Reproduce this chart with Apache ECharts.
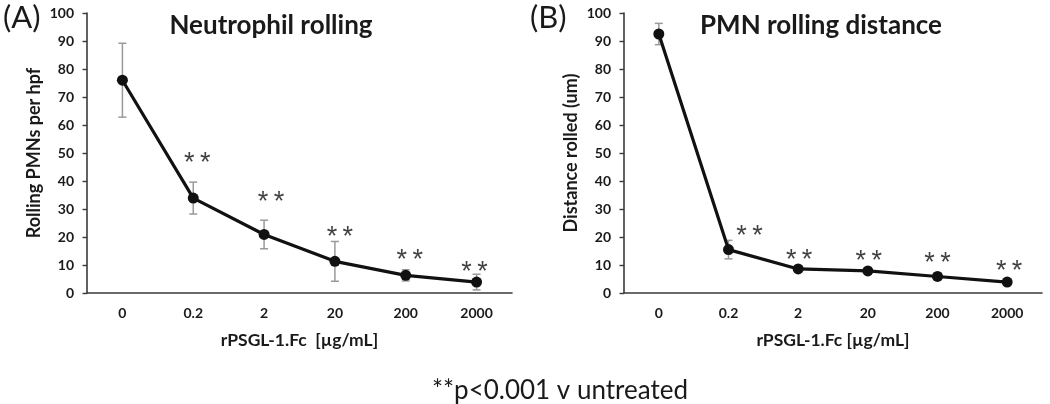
<!DOCTYPE html>
<html>
<head>
<meta charset="utf-8">
<script src="https://cdn.jsdelivr.net/npm/echarts@6/dist/echarts.min.js"></script>
<style>
html,body{margin:0;padding:0;background:#fff;}
#c{width:1050px;height:404px;}
</style>
</head>
<body>
<div id="c"></div>
<script>
// ---- data ----
const categories = ['0', '0.2', '2', '20', '200', '2000'];
const yTicks = [0, 10, 20, 30, 40, 50, 60, 70, 80, 90, 100];

const rollingMean = [76.0, 33.9, 20.9, 11.3, 6.3, 3.9];
const rollingErr  = [13.2, 5.7, 5.1, 7.1, 2.0, 2.8];
const rollingStar = [null, 48.2, 34.6, 22.1, 13.9, 9.6];

const distanceMean = [92.5, 15.5, 8.6, 7.9, 5.9, 3.9];
const distanceErr  = [3.8, 3.3, 1.0, 0.8, 1.3, 0.8];
const distanceStar = [null, 22.2, 13.7, 13.2, 12.7, 9.7];

const titleA = 'Neutrophil rolling';
const titleB = 'PMN rolling distance';
const yNameA = 'Rolling PMNs per hpf';
const yNameB = 'Distance rolled (um)';
const xNameA = 'rPSGL-1.Fc  [µg/mL]';
const xNameB = 'rPSGL-1.Fc [µg/mL]';
const footnote = '**p<0.001 v untreated';
const starText = '*\u2009*';

// ---- chart ----
const FONT = 'Lato, "Open Sans", sans-serif';
const TXT = '#1a1a1a';
const chart = echarts.init(document.getElementById('c'), null, {renderer: 'canvas'});

function errData(mean, err) {
  return mean.map((m, i) => [i, m - err[i], m + err[i]]);
}
function starData(st) {
  const out = [];
  st.forEach((v, i) => { if (v != null) out.push([i, v]); });
  return out;
}
function errRender(params, api) {
  const x = api.coord([api.value(0), api.value(1)])[0];
  const lo = api.coord([api.value(0), api.value(1)])[1];
  const hi = api.coord([api.value(0), api.value(2)])[1];
  const w = 4;
  const st = {stroke: '#9a9a9a', lineWidth: 1.5};
  return {
    type: 'group',
    children: [
      {type: 'line', shape: {x1: x, y1: lo, x2: x, y2: hi}, style: st},
      {type: 'line', shape: {x1: x - w, y1: lo, x2: x + w, y2: lo}, style: st},
      {type: 'line', shape: {x1: x - w, y1: hi, x2: x + w, y2: hi}, style: st}
    ]
  };
}

function xAxis(gi) {
  return {
    type: 'category', gridIndex: gi, data: categories,
    axisLine: {lineStyle: {color: '#3a3a3a', width: 1.6}},
    axisTick: {show: false},
    axisLabel: {color: TXT, fontFamily: FONT, fontWeight: 'bold', fontSize: 14, margin: 13},
    name: gi === 0 ? xNameA : xNameB,
    nameLocation: 'middle', nameGap: 38,
    nameTextStyle: {color: TXT, fontFamily: FONT, fontWeight: 'bold', fontSize: 17.5}
  };
}
function yAxis(gi) {
  return {
    type: 'value', gridIndex: gi, min: yTicks[0], max: yTicks[yTicks.length - 1], interval: 10,
    axisLine: {show: true, lineStyle: {color: '#3a3a3a', width: 1.6}},
    axisTick: {show: true, inside: false, length: 4.5, lineStyle: {color: '#3a3a3a', width: 1.4}},
    splitLine: {show: false},
    axisLabel: {color: TXT, fontFamily: FONT, fontWeight: 'bold', fontSize: 14, margin: 13},
    name: gi === 0 ? yNameA : yNameB,
    nameLocation: 'middle', nameGap: 44, nameRotate: 90,
    nameTextStyle: {color: TXT, fontFamily: FONT, fontWeight: 'bold', fontSize: 18}
  };
}
function lineSeries(gi, data) {
  return {
    type: 'line', xAxisIndex: gi, yAxisIndex: gi, data: data, z: 3,
    symbol: 'circle', symbolSize: 11,
    lineStyle: {color: '#111', width: 3.2},
    itemStyle: {color: '#111'}
  };
}
function errSeries(gi, mean, err) {
  return {
    type: 'custom', xAxisIndex: gi, yAxisIndex: gi, z: 2,
    renderItem: errRender, data: errData(mean, err), encode: {x: 0, y: [1, 2]}
  };
}
function starSeries(gi, st, offsets) {
  return {
    type: 'scatter', xAxisIndex: gi, yAxisIndex: gi, symbolSize: 1,
    itemStyle: {color: 'rgba(0,0,0,0)'},
    data: starData(st).map((d, k) => ({value: d, label: {offset: [offsets[k] || 0, 6]}})),
    label: {show: true, position: 'inside', formatter: starText, color: '#111',
            fontFamily: '"Liberation Sans", sans-serif', fontSize: 27}
  };
}

chart.setOption({
  backgroundColor: '#fff',
  animation: false,
  grid: [
    {left: 87, top: 13, width: 425, height: 280},
    {left: 624, top: 13, width: 418, height: 280}
  ],
  title: [
    {text: titleA, left: 266, top: 8, textAlign: 'center',
     textStyle: {fontFamily: FONT, fontWeight: 'bold', fontSize: 26, color: TXT}},
    {text: titleB, left: 816, top: 8, textAlign: 'center',
     textStyle: {fontFamily: FONT, fontWeight: 'bold', fontSize: 26, color: TXT}},
    {text: '(A)', left: -2, top: -3,
     textStyle: {fontFamily: FONT, fontWeight: 'normal', fontSize: 31, color: TXT}},
    {text: '(B)', left: 525, top: -3,
     textStyle: {fontFamily: FONT, fontWeight: 'normal', fontSize: 31, color: TXT}},
    {text: footnote, left: 555, top: 373, textAlign: 'center',
     textStyle: {fontFamily: FONT, fontWeight: 'normal', fontSize: 26, color: TXT}}
  ],
  xAxis: [xAxis(0), xAxis(1)],
  yAxis: [yAxis(0), yAxis(1)],
  series: [
    errSeries(0, rollingMean, rollingErr),
    lineSeries(0, rollingMean),
    starSeries(0, rollingStar, [4, 7, 5, 4, -2]),
    errSeries(1, distanceMean, distanceErr),
    lineSeries(1, distanceMean),
    starSeries(1, distanceStar, [21, 1, 1, 0, 2])
  ]
});
</script>
</body>
</html>
